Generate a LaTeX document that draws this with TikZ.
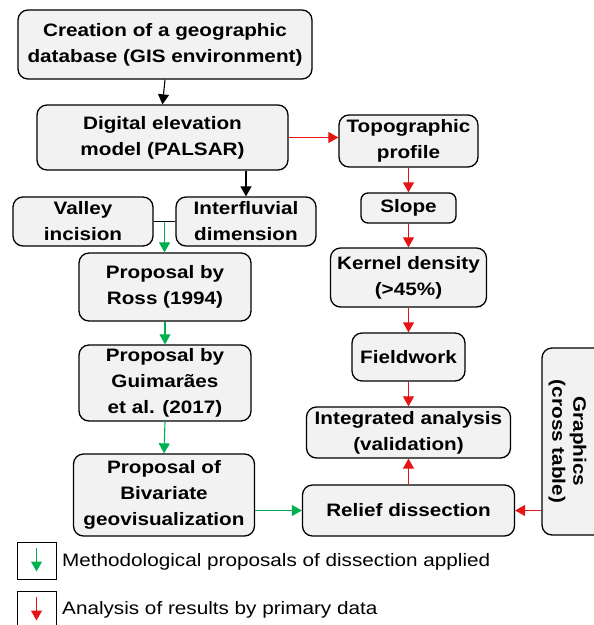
\documentclass[tikz,border=0pt]{standalone}
\usepackage{fontspec}
\setmainfont{Liberation Sans}[FakeStretch=1.15]
\usetikzlibrary{arrows.meta,calc}
\definecolor{boxfill}{RGB}{242,242,242}
\definecolor{arrred}{RGB}{230,20,20}
\definecolor{arrgreen}{RGB}{0,176,80}
\tikzset{
  box/.style={draw=black, line width=1.3pt, rounded corners=10pt, fill=boxfill,
    align=center, inner sep=2pt, font=\fontsize{18}{26}\selectfont\bfseries},
  legbox/.style={draw=black, line width=1pt, fill=white},
  legtext/.style={anchor=west, inner sep=0pt, font=\fontsize{18}{22}\selectfont},
  tip/.style={-{Triangle[length=10pt,width=11pt]}},
  blk/.style={draw=black, line width=1.1pt, tip},
  red/.style={draw=arrred, line width=1.1pt, tip},
  grn/.style={draw=arrgreen, line width=1.1pt, tip},
}
\begin{document}
\begin{tikzpicture}[x=1pt, y=-1pt]
\useasboundingbox (0,0) rectangle (594,625);
\clip (0,0) rectangle (594,625);
% left column
\node[box, minimum width=294pt, minimum height=69pt] (gis) at (165,44.5) {Creation of a geographic\\database (GIS environment)};
\node[box, minimum width=251pt, minimum height=65pt] (dem) at (162.5,137.5) {Digital elevation\\model (PALSAR)};
\node[box, minimum width=140pt, minimum height=49pt] (valley) at (83,221.5) {Valley\\incision};
\node[box, minimum width=140pt, minimum height=49pt] (inter) at (246,221.5) {Interfluvial\\dimension};
\node[box, minimum width=172pt, minimum height=68pt] (ross) at (165,287) {Proposal by\\Ross (1994)};
\node[box, minimum width=172pt, minimum height=76pt] (guim) at (165,383) {Proposal by\\Guimarães\\et al. (2017)};
\node[box, minimum width=181pt, minimum height=82pt] (biv) at (164,495) {Proposal of\\Bivariate\\geovisualization};
% right column
\node[box, minimum width=139pt, minimum height=52pt] (topo) at (408.5,141) {Topographic\\profile};
\node[box, minimum width=95pt, minimum height=30pt, rounded corners=7pt] (slope) at (408.5,208) {Slope};
\node[box, minimum width=156pt, minimum height=59pt] (kernel) at (408.5,277.5) {Kernel density\\(>45\%)};
\node[box, minimum width=113pt, minimum height=48pt] (field) at (408.5,357) {Fieldwork};
\node[box, minimum width=204pt, minimum height=51pt] (integ) at (408.5,432.5) {Integrated analysis\\(validation)};
\node[box, minimum width=212pt, minimum height=51pt] (relief) at (408.5,510.5) {Relief dissection};
\node[box, minimum width=78pt, minimum height=187pt] (graph) at (581,441.5) {};
\node[font=\fontsize{18}{21}\selectfont\bfseries, align=center, rotate=-90] (graphtxt) at (567.5,441.5) {Graphics\\(cross table)};
% connectors
\draw[blk] (gis.south) -- (dem.north);
\draw[blk] (dem.south -| inter.north) -- (inter.north);
\draw[red] (dem.east) -- (dem.east -| topo.west);
\draw[line width=1pt] (valley.east) -- (inter.west);
\coordinate (vi) at ($(valley.east)!.5!(inter.west)$);
\draw[grn] (vi) -- (vi |- ross.north);
\draw[grn] (ross.south) -- (guim.north);
\draw[grn] (guim.south) -- (biv.north);
\draw[grn] (biv.east |- relief.west) -- (relief.west);
\draw[red] (topo.south) -- (slope.north);
\draw[red] (slope.south) -- (kernel.north);
\draw[red] (kernel.south) -- (field.north);
\draw[red] (field.south) -- (integ.north);
\draw[red] (relief.north) -- (integ.south);
\draw[red] (graph.west |- relief.east) -- (relief.east);
% legend
\node[legbox, minimum width=39pt, minimum height=37pt, inner sep=0pt] (leg1) at (36.5,560.5) {};
\draw[grn] ([yshift=-6pt]leg1.north) -- ([yshift=8pt]leg1.south);
\node[legtext] (legt1) at (62,562) {Methodological proposals of dissection applied};
\node[legbox, minimum width=39pt, minimum height=37pt, inner sep=0pt] (leg2) at (36.5,609.5) {};
\draw[red] ([yshift=-6pt]leg2.north) -- ([yshift=8pt]leg2.south);
\node[legtext] (legt2) at (62,610) {Analysis of results by primary data};
\end{tikzpicture}
\end{document}
